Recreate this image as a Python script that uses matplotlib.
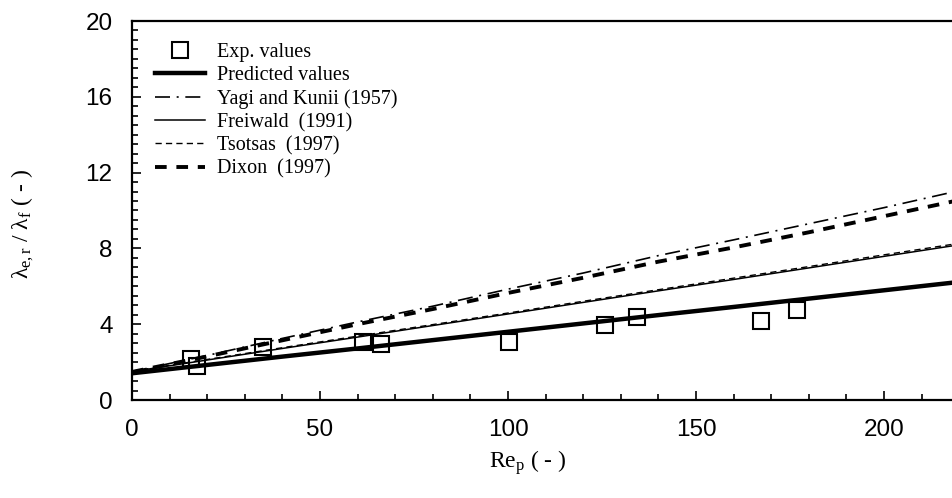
import matplotlib
matplotlib.use("Agg")
import matplotlib.pyplot as plt
from matplotlib.ticker import MultipleLocator, FixedLocator

plt.rcParams['mathtext.fontset'] = 'custom'
plt.rcParams['mathtext.rm'] = 'Liberation Serif'
plt.rcParams['mathtext.it'] = 'Liberation Serif:italic'

# experimental points
exp_re = [15.7, 17.2, 34.8, 61.4, 66.1, 100.3, 125.8, 134.2, 167.3, 176.8]
exp_lam = [2.15, 1.81, 2.78, 3.08, 2.94, 3.04, 3.96, 4.36, 4.15, 4.77]

# model curves
re = [0, 20, 40, 60, 80, 100, 120, 140, 160, 180, 200, 220, 240]
predicted = [1.41, 1.85, 2.29, 2.72, 3.16, 3.60, 4.04, 4.48, 4.91, 5.35, 5.79, 6.23, 6.67]
yagi = [1.50, 2.35, 3.25, 4.12, 4.95, 5.85, 6.70, 7.62, 8.45, 9.30, 10.15, 11.05, 11.90]
freiwald = [1.50, 2.11, 2.72, 3.32, 3.93, 4.54, 5.15, 5.76, 6.36, 6.97, 7.58, 8.19, 8.80]
tsotsas = [1.52, 2.14, 2.76, 3.37, 3.98, 4.59, 5.21, 5.82, 6.43, 7.04, 7.66, 8.27, 8.88]
dixon = [1.48, 2.30, 3.15, 4.00, 4.80, 5.65, 6.45, 7.30, 8.05, 8.85, 9.70, 10.55, 11.35]

x_ticks = [0, 50, 100, 150, 200]

fig = plt.figure(figsize=(9.52, 4.98), dpi=100)
# axes run past the right edge of the picture, as in the original
ax = fig.add_axes([132/952, 98/498, 940/952, 379/498])

ax.plot(exp_re, exp_lam, 's', ms=11, mfc='none', mec='black', mew=1.5, label='Exp. values', clip_on=False)
ax.plot(re, predicted, '-', color='black', lw=3.2, label='Predicted values')
ax.plot(re, yagi, color='black', lw=1.2, dashes=(9, 4, 1.2, 4), label='Yagi and Kunii (1957)')
ax.plot(re, freiwald, '-', color='black', lw=1.1, label='Freiwald  (1991)')
ax.plot(re, tsotsas, color='black', lw=1, dashes=(4.5, 3), label='Tsotsas  (1997)')
ax.plot(re, dixon, color='black', lw=2.8, dashes=(3, 2.5), label='Dixon  (1997)')

ax.set_xlim(0, 250)
ax.set_ylim(0, 20)
ax.xaxis.set_major_locator(FixedLocator(x_ticks))
ax.xaxis.set_minor_locator(MultipleLocator(10))
ax.yaxis.set_major_locator(MultipleLocator(4))
ax.yaxis.set_minor_locator(MultipleLocator(0.5))
ax.tick_params(which='both', direction='in', top=False, right=False, width=1.2)
ax.tick_params(which='major', length=6.5, labelsize=17.5, pad=14)
ax.tick_params(which='minor', length=4.5)
for lab in ax.get_xticklabels() + ax.get_yticklabels():
    lab.set_family('Liberation Sans')
for s in ax.spines.values():
    s.set_linewidth(1.6)

ax.set_xlabel('Re$_{\\mathrm{p}}$ ( - )', family='Liberation Serif', fontsize=17)
ax.xaxis.set_label_coords(0.421, -0.165)
ax.xaxis.label.set_va('center')
ax.set_ylabel('λ$_{\\mathrm{e,r}}$ / λ$_{\\mathrm{f}}$ ( - )', family='Liberation Serif', fontsize=17)
ax.yaxis.set_label_coords(-0.116, 0.464)
ax.yaxis.label.set_va('center')

ax.legend(loc='upper left', bbox_to_anchor=(0.0245, 0.942), frameon=False,
          borderpad=0, borderaxespad=0, handlelength=2.5, handletextpad=0.6,
          labelspacing=0.2, prop={'family': 'Liberation Serif', 'size': 14.5})

fig.savefig('out.png', dpi=100)
